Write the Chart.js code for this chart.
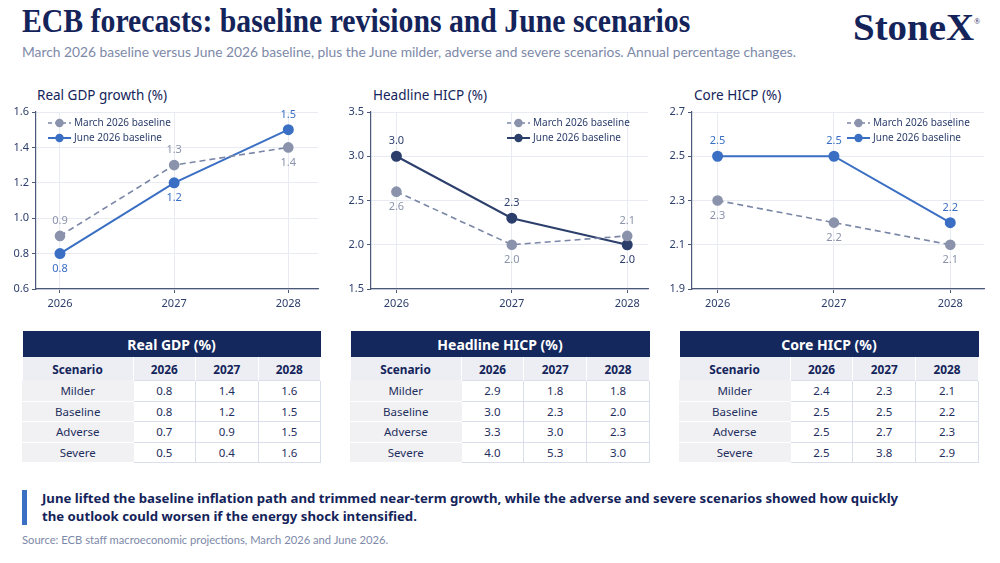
<!DOCTYPE html>
<html>
<head>
<meta charset="utf-8">
<script src="https://cdn.jsdelivr.net/npm/chart.js@4.4.1/dist/chart.umd.min.js"></script>
<style>
  html, body { margin: 0; padding: 0; background: #fff; }
  body { width: 1000px; height: 563px; position: relative; overflow: hidden; font-family: 'Noto Sans', sans-serif; color: #14245a; }
  .title { position: absolute; left: 22px; top: 3px; font-family: 'Liberation Serif', serif; font-size: 33px; font-weight: bold; color: #14245a; white-space: nowrap; transform-origin: left top; }
  .logo { position: absolute; left: 853px; top: 5px; font-family: 'Liberation Serif', serif; font-size: 38px; color: #14245a; font-weight: bold; white-space: nowrap; transform-origin: left top; }
  .logo sup { font-size: 8px; font-weight: normal; position: relative; top: -16px; vertical-align: baseline; }
  .subtitle { position: absolute; left: 22px; top: 43px; font-family: Lato, sans-serif; font-size: 13.8px; color: #7d89a8; white-space: nowrap; }
  .ctitle { position: absolute; top: 86px; font-size: 13.5px; color: #14245a; white-space: nowrap; }
  .chartbox { position: absolute; top: 100px; height: 220px; }
  .tbl { position: absolute; top: 331px; border-collapse: collapse; font-size: 11.5px; color: #1f2f5e; }
  .tbl th.cap { background: #14285e; color: #fff; font-size: 14px; font-weight: bold; height: 26px; padding: 0; }
  .tbl th.col { background: #eceef3; font-weight: bold; font-size: 11.8px; height: 23px; padding: 0; color: #14245a; border-right: 1px solid #fff; }
  .tbl td { height: 19.5px; padding: 0; text-align: center; border: 1px solid #d9deea; background: #fff; }
  .tbl td.sc { background: #f1f1f3; border-color: #f1f1f3; border-bottom: 1px solid #fff; }
  .callbar { position: absolute; left: 22px; top: 490px; width: 5px; height: 35px; background: #3a6fc4; }
  .callout { position: absolute; left: 42px; top: 489px; font-size: 13.2px; font-weight: bold; color: #14245a; line-height: 18px; white-space: nowrap; }
  .source { position: absolute; left: 22px; top: 533px; font-family: Lato, sans-serif; font-size: 11.2px; color: #7d89a8; white-space: nowrap; }
</style>
</head>
<body>
<div class="title" id="title">ECB forecasts: baseline revisions and June scenarios</div>
<div class="logo" id="logo">StoneX<sup>®</sup></div>
<div class="subtitle">March 2026 baseline versus June 2026 baseline, plus the June milder, adverse and severe scenarios. Annual percentage changes.</div>

<div class="ctitle" style="left:37px">Real GDP growth (%)</div>
<div class="ctitle" style="left:373px">Headline HICP (%)</div>
<div class="ctitle" style="left:694px">Core HICP (%)</div>

<div class="chartbox" style="left:0px;width:330px"><canvas id="gdpChart"></canvas></div>
<div class="chartbox" style="left:335px;width:325px"><canvas id="hicpChart"></canvas></div>
<div class="chartbox" style="left:656px;width:340px"><canvas id="coreChart"></canvas></div>

<table class="tbl" id="gdpTable" style="left:22px;width:299px"></table>
<table class="tbl" id="hicpTable" style="left:350px;width:300px"></table>
<table class="tbl" id="coreTable" style="left:679px;width:300px"></table>

<div class="callbar"></div>
<div class="callout">June lifted the baseline inflation path and trimmed near-term growth, while the adverse and severe scenarios showed how quickly<br>the outlook could worsen if the energy shock intensified.</div>
<div class="source">Source: ECB staff macroeconomic projections, March 2026 and June 2026.</div>

<script>
// Chart data
const years = [2026, 2027, 2028];

const gdpMarch = [0.9, 1.3, 1.4];
const gdpJune = [0.8, 1.2, 1.5];
const hicpMarch = [2.6, 2.0, 2.1];
const hicpJune = [3.0, 2.3, 2.0];
const coreMarch = [2.3, 2.2, 2.1];
const coreJune = [2.5, 2.5, 2.2];

const gdpTicks = [0.6, 0.8, 1.0, 1.2, 1.4, 1.6];
const hicpTicks = [1.5, 2.0, 2.5, 3.0, 3.5];
const coreTicks = [1.9, 2.1, 2.3, 2.5, 2.7];

// Table data
const scenarios = ['Milder', 'Baseline', 'Adverse', 'Severe'];
const gdpScenarios = [[0.8, 1.4, 1.6], [0.8, 1.2, 1.5], [0.7, 0.9, 1.5], [0.5, 0.4, 1.6]];
const hicpScenarios = [[2.9, 1.8, 1.8], [3.0, 2.3, 2.0], [3.3, 3.0, 2.3], [4.0, 5.3, 3.0]];
const coreScenarios = [[2.4, 2.3, 2.1], [2.5, 2.5, 2.2], [2.5, 2.7, 2.3], [2.5, 3.8, 2.9]];

const NAVY = '#14245a';
const GREY = '#8a93ab';
const BLUE = '#3a6fc4';
const DARK = '#2c3e6b';

// squeeze the serif headings to the width they have in the original
function fitWidth(id, target) {
    const el = document.getElementById(id);
    el.style.transform = `scaleX(${target / el.offsetWidth})`;
}
fitWidth('title', 668);
fitWidth('logo', 127);

Chart.defaults.font.family = "'Noto Sans', sans-serif";
Chart.defaults.color = DARK;

// value labels above / below each point
const valueLabels = {
    id: 'valueLabels',
    afterDatasetsDraw(chart) {
        const ctx = chart.ctx;
        ctx.save();
        ctx.font = "11px 'Noto Sans', sans-serif";
        ctx.textAlign = 'center';
        ctx.textBaseline = 'middle';
        chart.data.datasets.forEach((ds, i) => {
            const meta = chart.getDatasetMeta(i);
            ctx.fillStyle = ds.labelColor;
            meta.data.forEach((pt, j) => {
                const dy = ds.labelSide[j] === 'up' ? -15 : 15;
                ctx.fillText(ds.data[j].y.toFixed(1), pt.x, pt.y + dy);
            });
        });
        ctx.restore();
    }
};

// small stacked legend inside the plot
const insideLegend = {
    id: 'insideLegend',
    afterDraw(chart, args, opts) {
        const ctx = chart.ctx;
        const area = chart.chartArea;
        const x0 = opts.align === 'left' ? area.left + 12 : area.right - opts.offset;
        ctx.save();
        ctx.font = "10px 'Noto Sans', sans-serif";
        ctx.textBaseline = 'middle';
        chart.data.datasets.forEach((ds, i) => {
            const y = area.top + 11 + i * 15;
            ctx.strokeStyle = ds.borderColor;
            ctx.lineWidth = ds.borderWidth;
            ctx.setLineDash(ds.borderDash ? [4, 3] : []);
            ctx.beginPath();
            ctx.moveTo(x0, y);
            ctx.lineTo(x0 + 23, y);
            ctx.stroke();
            ctx.setLineDash([]);
            ctx.fillStyle = ds.pointBackgroundColor;
            ctx.beginPath();
            ctx.arc(x0 + 11.5, y, 4.2, 0, Math.PI * 2);
            ctx.fill();
            ctx.fillStyle = DARK;
            ctx.fillText(ds.label, x0 + 26, y);
        });
        ctx.restore();
    }
};

function pts(values) {
    return values.map((v, i) => ({ x: years[i], y: v }));
}

function makeChart(id, march, june, juneColor, ticks, xMin, xMax, sides, legend) {
    const ctx = document.getElementById(id).getContext('2d');
    new Chart(ctx, {
        type: 'line',
        data: {
            datasets: [{
                label: 'March 2026 baseline',
                data: pts(march),
                borderColor: '#7a86a6',
                borderWidth: 1.6,
                borderDash: [6, 4],
                pointBackgroundColor: GREY,
                pointBorderColor: GREY,
                pointRadius: 4.5,
                labelColor: GREY,
                labelSide: sides[0]
            }, {
                label: 'June 2026 baseline',
                data: pts(june),
                borderColor: juneColor,
                borderWidth: 2,
                pointBackgroundColor: juneColor,
                pointBorderColor: juneColor,
                pointRadius: 4.5,
                labelColor: juneColor,
                labelSide: sides[1]
            }]
        },
        options: {
            responsive: true,
            maintainAspectRatio: false,
            animation: false,
            layout: { padding: { top: 12, right: 12, left: 0, bottom: 0 } },
            plugins: {
                legend: { display: false },
                tooltip: { enabled: false },
                insideLegend: legend
            },
            scales: {
                x: {
                    type: 'linear',
                    min: xMin,
                    max: xMax,
                    afterBuildTicks: axis => { axis.ticks = years.map(v => ({ value: v })); },
                    afterFit: axis => { axis.height = 31; },
                    ticks: { callback: v => String(v), font: { size: 11 }, color: DARK, padding: 4 },
                    grid: { color: '#e8ebf2', tickColor: '#4b5878', tickLength: 4 },
                    border: { color: '#4b5878', width: 1.2 }
                },
                y: {
                    min: ticks[0],
                    max: ticks[ticks.length - 1],
                    afterBuildTicks: axis => { axis.ticks = ticks.map(v => ({ value: v })); },
                    afterFit: axis => { axis.width = 36; },
                    ticks: { callback: v => v.toFixed(1), font: { size: 11 }, color: DARK, padding: 3 },
                    grid: { color: '#e8ebf2', tickColor: '#4b5878', tickLength: 4 },
                    border: { color: '#4b5878', width: 1.2 }
                }
            }
        },
        plugins: [valueLabels, insideLegend]
    });
}

makeChart('gdpChart', gdpMarch, gdpJune, BLUE, gdpTicks, 2025.79, 2028.26,
    [['up', 'up', 'down'], ['down', 'down', 'up']], { align: 'left' });
makeChart('hicpChart', hicpMarch, hicpJune, DARK, hicpTicks, 2025.78, 2028.18,
    [['down', 'down', 'up'], ['up', 'up', 'down']], { align: 'right', offset: 141 });
makeChart('coreChart', coreMarch, coreJune, BLUE, coreTicks, 2025.78, 2028.29,
    [['down', 'down', 'down'], ['up', 'up', 'up']], { align: 'right', offset: 137 });

function fillTable(id, caption, rows) {
    const table = document.getElementById(id);
    let html = `<tr><th class="cap" colspan="4">${caption}</th></tr>`;
    html += `<tr><th class="col" style="width:110px">Scenario</th>`;
    years.forEach(y => { html += `<th class="col">${y}</th>`; });
    html += `</tr>`;
    rows.forEach((r, i) => {
        html += `<tr><td class="sc">${scenarios[i]}</td>`;
        r.forEach(v => { html += `<td>${v.toFixed(1)}</td>`; });
        html += `</tr>`;
    });
    table.innerHTML = html;
}

fillTable('gdpTable', 'Real GDP (%)', gdpScenarios);
fillTable('hicpTable', 'Headline HICP (%)', hicpScenarios);
fillTable('coreTable', 'Core HICP (%)', coreScenarios);
</script>
</body>
</html>
